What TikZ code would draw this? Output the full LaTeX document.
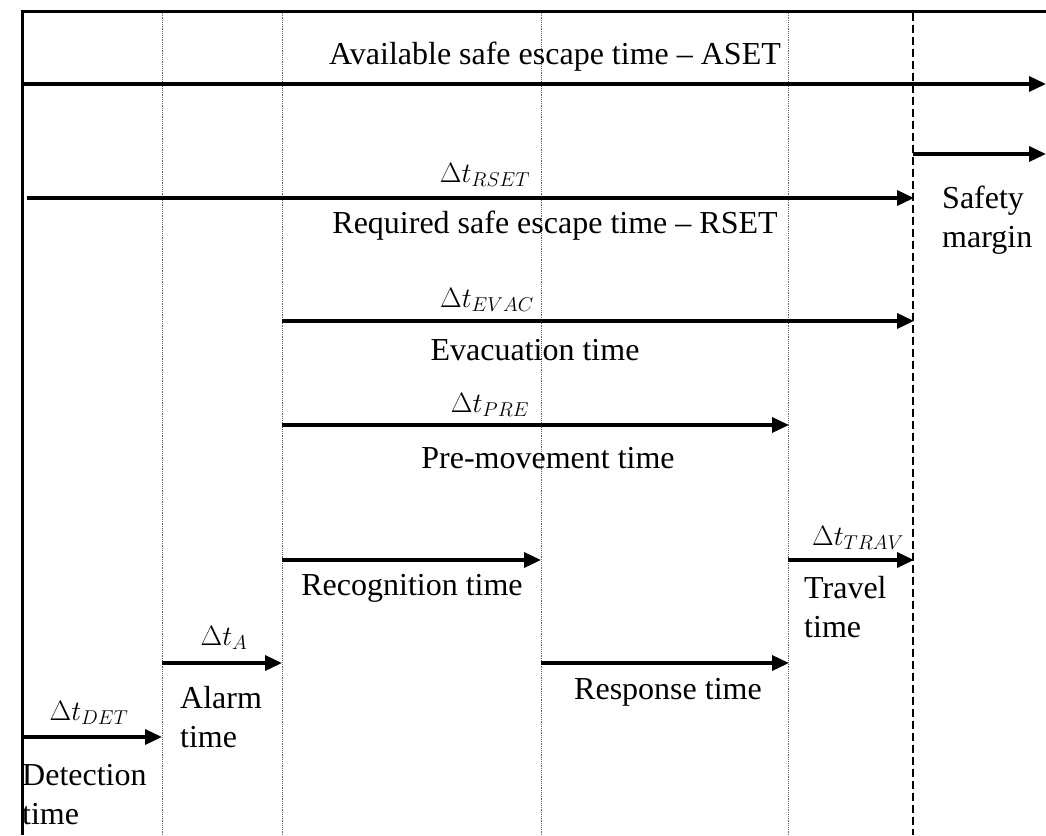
\RequirePackage{fix-cm}
\documentclass[tikz,border=0pt]{standalone}
\usepackage{fontspec}
\setmainfont{Liberation Serif}
\DeclareMathSizes{28}{28}{20}{15}
\usetikzlibrary{arrows.meta}
\begin{document}
\begin{tikzpicture}[x=1pt,y=-1pt,
  arr/.style={line width=3.5pt,-{Triangle[length=17pt,width=15pt]}},
  guide/.style={gray!80!black,line width=1pt,dash pattern=on 1.2pt off 1pt},
  lbl/.style={font=\fontsize{32}{38}\selectfont,inner sep=0pt},
  mth/.style={font=\fontsize{28}{32}\selectfont,inner sep=0pt,anchor=base},
  ml/.style={lbl,align=left,anchor=north west,font=\fontsize{32}{39}\selectfont}]
\useasboundingbox (0,0) rectangle (1046,835);
% grid
\coordinate (tl) at (22,11);
\coordinate (tr) at (1046,11);
\coordinate (bl) at (22,835);
\draw[line width=3pt] (tr) -- (tl) -- (bl);
\foreach \x/\n in {162/a,282/b,541/c,788/d}{
  \coordinate (g\n t) at (\x,13);
  \coordinate (g\n b) at (\x,835);
  \draw[guide] (g\n t) -- (g\n b);
}
\coordinate (gst) at (913,13);
\coordinate (gsb) at (913,835);
\draw[line width=2.5pt,dash pattern=on 8pt off 4pt] (gst) -- (gsb);
% ASET
\coordinate (aset0) at (22,84);
\coordinate (aset1) at (1046,84);
\draw[arr] (aset0) -- (aset1);
\node[lbl] (asetl) at (555,57) {Available safe escape time – ASET};
% safety margin
\coordinate (sm0) at (913,154);
\coordinate (sm1) at (1046,154);
\draw[arr] (sm0) -- (sm1);
\node[ml] (sml) at (942,186) {Safety\\margin};
% RSET
\coordinate (rset0) at (27,198);
\coordinate (rset1) at (914,198);
\draw[arr] (rset0) -- (rset1);
\node[mth] (rsetd) at (485,182) {$\Delta t_{RSET}$};
\node[lbl] (rsetl) at (555,226) {Required safe escape time – RSET};
% EVAC
\coordinate (ev0) at (282,321);
\coordinate (ev1) at (914,321);
\draw[arr] (ev0) -- (ev1);
\node[mth] (evd) at (487,307) {$\Delta t_{EVAC}$};
\node[lbl] (evl) at (535,350) {Evacuation time};
% PRE
\coordinate (pr0) at (282,425);
\coordinate (pr1) at (789,425);
\draw[arr] (pr0) -- (pr1);
\node[mth] (prd) at (490,412) {$\Delta t_{PRE}$};
\node[lbl] (prl) at (548,458) {Pre-movement time};
% Recognition
\coordinate (rc0) at (282,560);
\coordinate (rc1) at (541,560);
\draw[arr] (rc0) -- (rc1);
\node[lbl] (rcl) at (412,588) {Recognition time};
% Travel
\coordinate (tv0) at (788,560);
\coordinate (tv1) at (914,560);
\draw[arr] (tv0) -- (tv1);
\node[mth] (tvd) at (858,545) {$\Delta t_{TRAV}$};
\node[ml] (tvl) at (804,576) {Travel\\time};
% Response
\coordinate (rs0) at (541,663);
\coordinate (rs1) at (789,663);
\draw[arr] (rs0) -- (rs1);
\node[lbl] (rsl) at (668,692) {Response time};
% Alarm
\coordinate (al0) at (162,663);
\coordinate (al1) at (282,663);
\draw[arr] (al0) -- (al1);
\node[mth] (ald) at (224,645) {$\Delta t_{A}$};
\node[ml] (all) at (180,686) {Alarm\\time};
% Detection
\coordinate (dt0) at (22,737);
\coordinate (dt1) at (162,737);
\draw[arr] (dt0) -- (dt1);
\node[mth] (dtd) at (89,720) {$\Delta t_{DET}$};
\node[ml] (dtl) at (22,764) {Detection\\time};
\end{tikzpicture}
\end{document}
